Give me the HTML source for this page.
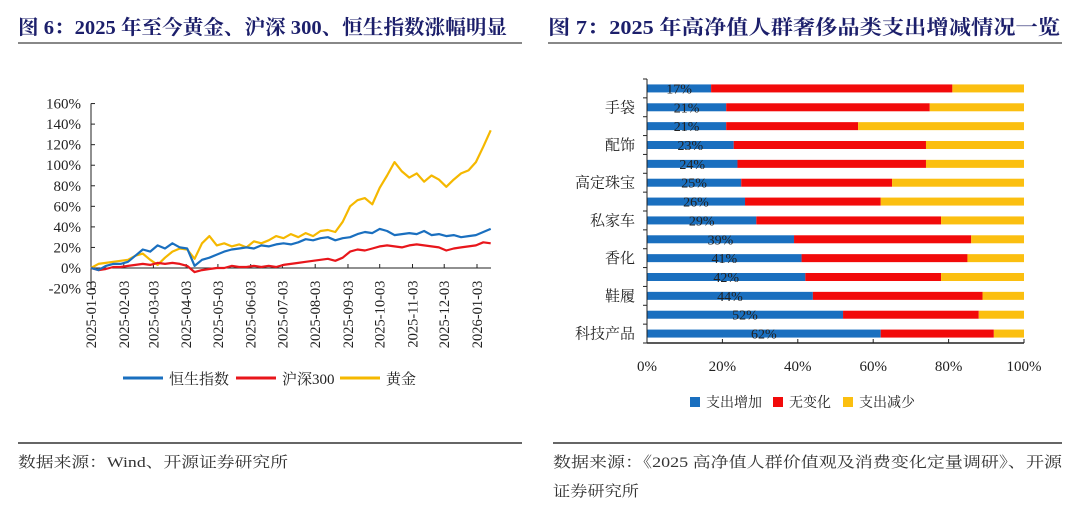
<!DOCTYPE html>
<html><head><meta charset="utf-8">
<style>
body{margin:0;background:#fff;width:1080px;height:512px;overflow:hidden;font-family:"Liberation Serif","Noto Serif CJK SC",serif;}
svg text{font-family:"Liberation Serif","Noto Serif CJK SC",serif;}
</style></head>
<body>
<svg id="s" width="1080" height="512">
  <text x="18" y="34" font-size="20" font-weight="bold" fill="#1c1f6b" textLength="489" lengthAdjust="spacingAndGlyphs">图 6：2025 年至今黄金、沪深 300、恒生指数涨幅明显</text>
  <line x1="18" y1="43" x2="522" y2="43" stroke="#888" stroke-width="2"/>
  <text x="548" y="34" font-size="20" font-weight="bold" fill="#1c1f6b" textLength="512" lengthAdjust="spacingAndGlyphs">图 7：2025 年高净值人群奢侈品类支出增减情况一览</text>
  <line x1="548" y1="43" x2="1062" y2="43" stroke="#888" stroke-width="2"/>
  <line x1="18" y1="443" x2="522" y2="443" stroke="#333" stroke-width="1.5"/>
  <line x1="553" y1="443" x2="1062" y2="443" stroke="#333" stroke-width="1.5"/>
  <text x="18" y="467" font-size="15" fill="#333" textLength="270" lengthAdjust="spacingAndGlyphs">数据来源：Wind、开源证券研究所</text>
  <text x="553" y="467" font-size="15" fill="#333" textLength="509" lengthAdjust="spacingAndGlyphs">数据来源：《2025 高净值人群价值观及消费变化定量调研》、开源</text>
  <text x="553" y="496" font-size="15" fill="#333" textLength="86" lengthAdjust="spacingAndGlyphs">证券研究所</text>
  <g id="lc"></g>
  <g id="bc"></g>
</svg>
<script>
// ---- line chart data ----
const startDate = "2025-01-03";
const weekCount = 55;
const hsiValues = [0,-2,2,4,4,6,12,18,16,22,19,24,20,19,2,8,10,13,16,18,19,20,19,22,21,23,24,23,25,28,27,29,30,27,29,30,33,35,34,38,36,32,33,34,33,36,32,33,31,32,30,31,32,35,38];
const csiValues = [0,-2,-1,1,1,2,3,4,3,5,4,5,4,2,-4,-2,-1,0,0,2,1,1,2,1,2,1,3,4,5,6,7,8,9,7,10,16,18,17,19,21,22,21,20,22,23,22,21,20,17,19,20,21,22,25,24];
const goldValues = [0,4,5,6,7,8,12,14,8,3,10,16,19,18,9,24,31,22,24,21,23,20,26,24,27,31,29,33,30,34,31,36,37,35,45,60,66,68,62,78,90,103,94,88,92,84,90,86,79,86,92,95,103,118,134];
const yTicks = [-20,0,20,40,60,80,100,120,140,160];
const monthLabels = ["2025-01-03","2025-02-03","2025-03-03","2025-04-03","2025-05-03","2025-06-03","2025-07-03","2025-08-03","2025-09-03","2025-10-03","2025-11-03","2025-12-03","2026-01-03"];
const seriesNames = ["恒生指数","沪深300","黄金"];
// ---- bar chart data ----
const barCategories = ["","手袋","","配饰","","高定珠宝","","私家车","","香化","","鞋履","","科技产品"];
const increaseValues = [17,21,21,23,24,25,26,29,39,41,42,44,52,62];
const noChangeValues = [64,54,35,51,50,40,36,49,47,44,36,45,36,30];
const barTicks = [0,20,40,60,80,100];
const barLegend = ["支出增加","无变化","支出减少"];

const NS="http://www.w3.org/2000/svg";
function mk(parent,tag,attrs,text){const e=document.createElementNS(NS,tag);for(const k in attrs)e.setAttribute(k,attrs[k]);if(text!==undefined)e.textContent=text;parent.appendChild(e);return e;}

// line chart
const lc=document.getElementById('lc');
const d0=Date.parse(startDate);
const dayPx=386/365, X0=91;
const xDate=s=>X0+(Date.parse(s)-d0)/86400000*dayPx;
const xWeek=i=>X0+i*7*dayPx;
const yL=v=>268-v*(185/180);
const colors=["#1a6fbf","#e8161b","#f5b800"];
yTicks.forEach(t=>{
  const tx=mk(lc,'text',{x:81,y:yL(t)+5,'font-size':15,'text-anchor':'end',fill:'#222'},t+'%');
  
  
  const tk=mk(lc,'line',{x1:91,x2:95,y1:yL(t),y2:yL(t),stroke:'#222'});
  
  
});
const ya=mk(lc,'line',{x1:91,x2:91,y1:yL(160),y2:yL(-20),stroke:'#222'});


const xa=mk(lc,'line',{x1:91,x2:491,y1:yL(0),y2:yL(0),stroke:'#222'});


monthLabels.forEach(m=>{
  const x=xDate(m);
  const tk=mk(lc,'line',{x1:x,x2:x,y1:yL(0),y2:yL(0)-4,stroke:'#222'});
  
  
  const tx=mk(lc,'text',{x:0,y:0,'font-size':14.5,'text-anchor':'end',fill:'#222',transform:`translate(${x+5},${yL(-20)-8}) rotate(-90)`},m);
  
  
});
[goldValues,csiValues,hsiValues].forEach((arr,k)=>{
  const ci=[2,1,0][k];
  const p=mk(lc,'polyline',{points:arr.map((v,i)=>xWeek(i).toFixed(1)+','+yL(v).toFixed(1)).join(' '),fill:'none',stroke:colors[ci],'stroke-width':2.2,'stroke-linejoin':'round'});
  
  
});
const legX=[123,236,340];
seriesNames.forEach((n,i)=>{
  const l=mk(lc,'line',{x1:legX[i],x2:legX[i]+40,y1:378,y2:378,stroke:colors[i],'stroke-width':3});
  
  
  const t=mk(lc,'text',{x:legX[i]+46,y:384,'font-size':15,fill:'#222'},n);
  
  
});

// bar chart
const bc=document.getElementById('bc');
const BX0=647,BX1=1024,BT=79,BB=343;
const xB=v=>BX0+v/100*(BX1-BX0);
const step=(BB-BT)/barCategories.length;
const yB=i=>BT+step*(i+0.5);
const bcol=["#1a6fbf","#f20a0a","#fbbf10"];
barCategories.forEach((c,i)=>{
  const y=yB(i)-4;
  const a=increaseValues[i], b=noChangeValues[i];
  const r1=mk(bc,'rect',{x:xB(0),y:y,width:xB(a)-xB(0),height:8,fill:bcol[0]});
  
  
  const r2=mk(bc,'rect',{x:xB(a),y:y,width:xB(a+b)-xB(a),height:8,fill:bcol[1]});
  
  
  const r3=mk(bc,'rect',{x:xB(a+b),y:y,width:xB(100)-xB(a+b),height:8,fill:bcol[2]});
  
  
  const t=mk(bc,'text',{x:(xB(0)+xB(a))/2,y:yB(i)+5,'font-size':14,'text-anchor':'middle',fill:'#222'},a+'%');
  
  
  if(c){
    const ct=mk(bc,'text',{x:635,y:yB(i)+5,'font-size':15,'text-anchor':'end',fill:'#222'},c);
    
    
  }
});
for(let i=0;i<=barCategories.length;i++){
  const tk=mk(bc,'line',{x1:BX0-4,x2:BX0,y1:BT+step*i,y2:BT+step*i,stroke:'#222'});
  
  
}
const bya=mk(bc,'line',{x1:BX0,x2:BX0,y1:BT,y2:BB,stroke:'#222'});


const bxa=mk(bc,'line',{x1:BX0,x2:BX1,y1:BB,y2:BB,stroke:'#222','stroke-width':1.5});


barTicks.forEach(t=>{
  const tk=mk(bc,'line',{x1:xB(t),x2:xB(t),y1:BB,y2:BB-4,stroke:'#222'});
  
  
  const tx=mk(bc,'text',{x:xB(t),y:371,'font-size':15,'text-anchor':'middle',fill:'#222'},t+'%');
  
  
});
const bLegX=[690,773,843];
barLegend.forEach((n,i)=>{
  const r=mk(bc,'rect',{x:bLegX[i],y:397,width:10,height:10,fill:bcol[i]});
  
  
  const t=mk(bc,'text',{x:bLegX[i]+16,y:407,'font-size':14,fill:'#222'},n);
  
  
});
</script>
</body></html>
